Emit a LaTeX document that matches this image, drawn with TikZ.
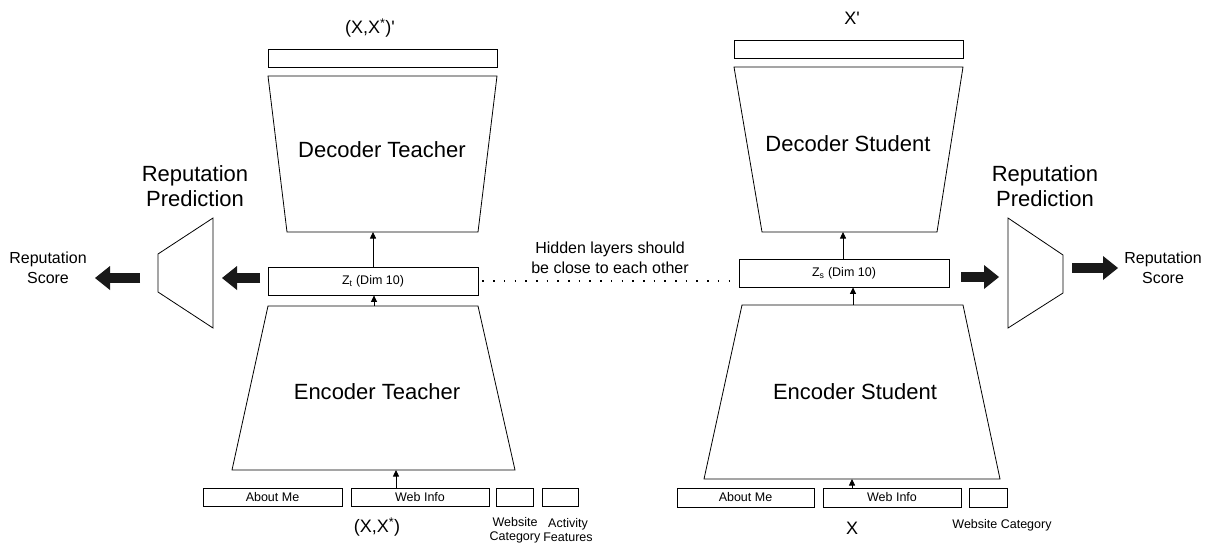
\documentclass[tikz,border=0pt]{standalone}
\usepackage{fontspec}
\setmainfont{Liberation Sans}
\usetikzlibrary{arrows.meta}
\tikzset{
  box/.style={draw, line width=0.8pt, inner sep=0pt, font=\fontsize{12.5}{14}\selectfont},
  trap/.style={draw, line width=0.8pt, line join=miter},
  thinarrow/.style={line width=0.8pt, -{Triangle[length=6.5pt,width=6pt]}},
  fatarrow/.style={line width=10pt, draw=black!90, -{Triangle[length=15pt,width=24pt,line width=0pt]}},
  big/.style={font=\fontsize{22}{25}\selectfont, align=center, inner sep=0pt},
  mid/.style={font=\fontsize{16}{20}\selectfont, align=center, inner sep=0pt},
  lbl/.style={font=\fontsize{18}{20}\selectfont, inner sep=0pt},
  small/.style={font=\fontsize{12.5}{14}\selectfont, align=center, inner sep=0pt},
  dotline/.style={line width=1.2pt, dash pattern=on 1.6pt off 9.1pt},
}
\begin{document}
\begin{tikzpicture}[x=1pt,y=-1pt]
\useasboundingbox (0,0) rectangle (1214,542);

% ---------------- Teacher ----------------
\node[lbl] (tlab) at (370,28) {(X,X\textsuperscript{*})\textquotesingle};
\node[box, minimum width=229pt, minimum height=18pt] (tout) at (382.5,58) {};
\draw[trap] (268,76) -- (497,76) -- (478,232) -- (287,232) -- cycle;
\coordinate (dtbot) at (382,232);
\node[big] (dect) at (382,150) {Decoder Teacher};

\node[box, minimum width=210pt, minimum height=28pt] (Zt) at (373,281) {Z\textsubscript{t} (Dim 10)};
\draw[thinarrow] (Zt.north) -- (Zt.north |- dtbot);

\draw[trap] (268,306) -- (478,306) -- (515,470) -- (232,470) -- cycle;
\coordinate (ettop) at (374,306);
\coordinate (etbot) at (396,470);
\draw[thinarrow] (ettop) -- (ettop |- Zt.south);
\node[big] (enct) at (377,392) {Encoder Teacher};

\node[box, minimum width=139pt, minimum height=18pt] (aboutT) at (272.5,497) {About Me};
\node[box, minimum width=138pt, minimum height=18pt] (webT) at (420,497) {Web Info};
\node[box, minimum width=37pt, minimum height=18pt] (wcT) at (514.5,497) {};
\node[box, minimum width=36pt, minimum height=18pt] (afT) at (560,497) {};
\draw[thinarrow] (etbot |- webT.north) -- (etbot);
\node[lbl] (tin) at (377,527) {(X,X\textsuperscript{*})};
\node[small] (wcTl) at (515,530) {Website\\Category};
\node[small] (afTl) at (568,530) {Activity\\Features};

% left reputation head
\draw[trap] (213,218) -- (213,328) -- (158,292) -- (158,254) -- cycle;
\node[big] (rpL) at (195,186) {Reputation\\Prediction};
\coordinate (la1s) at (260,278);
\coordinate (la1e) at (222,278);
\coordinate (la2s) at (140,278);
\coordinate (la2e) at (95,278);
\draw[fatarrow] (la1s) -- (la1e);
\draw[fatarrow] (la2s) -- (la2e);
\node[mid] (rsL) at (48,268) {Reputation\\Score};

% ---------------- Student ----------------
\node[lbl] (slab) at (852,18) {X\textquotesingle};
\node[box, minimum width=229pt, minimum height=18pt] (sout) at (848.5,49) {};
\draw[trap] (734,67) -- (963,67) -- (937,232) -- (762,232) -- cycle;
\coordinate (dsbot) at (843,232);
\node[big] (decs) at (848,144) {Decoder Student};

\node[box, minimum width=210pt, minimum height=28pt] (Zs) at (844,273) {Z\textsubscript{s} (Dim 10)};
\draw[thinarrow] (dsbot |- Zs.north) -- (dsbot);

\draw[trap] (742,305) -- (963,305) -- (1000,479) -- (704,479) -- cycle;
\coordinate (estop) at (853,305);
\coordinate (esbot) at (852,479);
\draw[thinarrow] (estop) -- (estop |- Zs.south);
\node[big] (encs) at (855,392) {Encoder Student};

\node[box, minimum width=137pt, minimum height=19pt] (aboutS) at (745.5,497.5) {About Me};
\node[box, minimum width=138pt, minimum height=19pt] (webS) at (892,497.5) {Web Info};
\node[box, minimum width=38pt, minimum height=19pt] (wcS) at (988,497.5) {};
\draw[thinarrow] (esbot |- webS.north) -- (esbot);
\node[lbl] (sin) at (852,528) {X};
\node[small] (wcSl) at (1002,525) {Website Category};

% right reputation head
\draw[trap] (1008,218) -- (1063,255) -- (1063,293) -- (1008,328) -- cycle;
\node[big] (rpR) at (1045,186) {Reputation\\Prediction};
\coordinate (ra1s) at (961,277);
\coordinate (ra1e) at (999,277);
\coordinate (ra2s) at (1072,268);
\coordinate (ra2e) at (1118,268);
\draw[fatarrow] (ra1s) -- (ra1e);
\draw[fatarrow] (ra2s) -- (ra2e);
\node[mid] (rsR) at (1163,268) {Reputation\\Score};

% ---------------- link ----------------
\coordinate (dotend) at (730,281);
\draw[dotline, shorten <=4pt] (Zt.east) -- (dotend);
\node[mid] (hid) at (610,258) {Hidden layers should\\be close to each other};
\end{tikzpicture}
\end{document}
